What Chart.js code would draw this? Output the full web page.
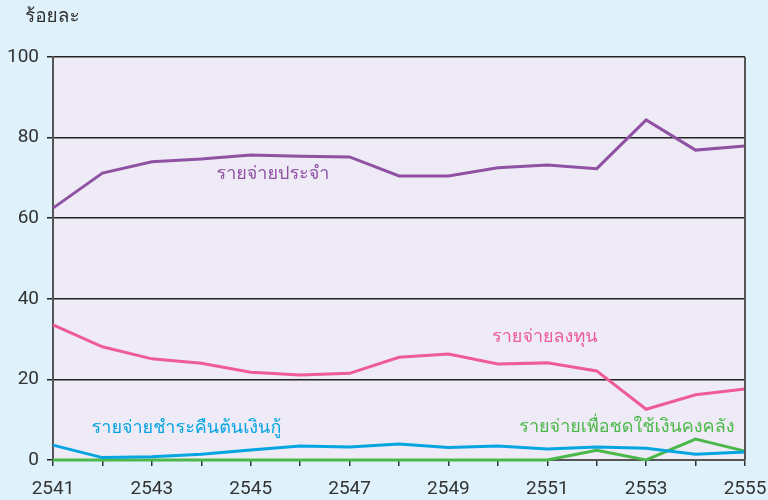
<!DOCTYPE html>
<html>
<head>
<meta charset="utf-8">
<script src="https://cdn.jsdelivr.net/npm/chart.js@4"></script>
<style>
  body { margin: 0; background: #dff1fa; }
  #wrap { width: 768px; height: 500px; position: relative; }
</style>
</head>
<body>
<div id="wrap"><canvas id="chart"></canvas></div>
<script>
// years (Buddhist era) and percent shares
const years = ['2541', '2542', '2543', '2544', '2545', '2546', '2547', '2548',
               '2549', '2550', '2551', '2552', '2553', '2554', '2555'];
const recurrent = [62.5, 71.2, 74.0, 74.7, 75.7, 75.4, 75.2, 70.5, 70.5, 72.5, 73.2, 72.3, 84.4, 76.9, 77.9];
const capital = [33.5, 28.1, 25.1, 24.0, 21.8, 21.1, 21.5, 25.5, 26.3, 23.8, 24.1, 22.1, 12.6, 16.2, 17.6];
const loanRepay = [3.7, 0.6, 0.8, 1.4, 2.5, 3.5, 3.2, 4.0, 3.1, 3.5, 2.7, 3.2, 2.9, 1.4, 2.0];
const treasury = [0, 0, 0, 0, 0, 0, 0, 0, 0, 0, 0, 2.4, 0, 5.2, 2.2];
const yTicks = [0, 20, 40, 60, 80, 100];

const seriesNames = ['รายจ่ายประจำ', 'รายจ่ายลงทุน', 'รายจ่ายชำระคืนต้นเงินกู้', 'รายจ่ายเพื่อชดใช้เงินคงคลัง'];
const seriesColors = ['#8f52a3', '#ef5a98', '#05a5e2', '#4cb849'];

// where each series name sits, in data units (x = year index, y = percent)
const labelSpots = [
    { x: 4.45, y: 70.8 },
    { x: 9.95, y: 30.3 },
    { x: 2.7, y: 7.8 },
    { x: 11.61, y: 8.0 }
];

const thaiFont = 'Loma, Garuda, "Noto Sans Thai Looped", "Noto Sans Thai", "Noto Sans", sans-serif';
const tickFont = '"Liberation Sans Narrow", "Roboto", sans-serif';

const plotBg = {
    id: 'plotBg',
    beforeDraw(chart) {
        const { ctx, chartArea: a } = chart;
        ctx.save();
        ctx.fillStyle = '#eeebf6';
        ctx.fillRect(a.left, a.top, a.right - a.left, a.bottom - a.top);
        ctx.restore();
    },
    afterDatasetsDraw(chart) {
        const { ctx, chartArea: a, scales } = chart;
        ctx.save();
        // right frame line
        ctx.strokeStyle = '#555';
        ctx.lineWidth = 2;
        ctx.beginPath();
        ctx.moveTo(a.right, a.top);
        ctx.lineTo(a.right, a.bottom);
        ctx.stroke();
        // series labels
        ctx.font = '18px ' + thaiFont;
        ctx.textAlign = 'center';
        ctx.textBaseline = 'middle';
        labelSpots.forEach((s, i) => {
            ctx.fillStyle = seriesColors[i];
            ctx.fillText(seriesNames[i], scales.x.getPixelForValue(s.x), scales.y.getPixelForValue(s.y));
        });
        // unit title
        ctx.fillStyle = '#333';
        ctx.textAlign = 'left';
        ctx.font = '19px ' + thaiFont;
        ctx.fillText('ร้อยละ', 25, 18);
        ctx.restore();
    }
};

const datasets = [recurrent, capital, loanRepay, treasury].map((d, i) => ({
    label: seriesNames[i],
    data: d,
    borderColor: seriesColors[i],
    borderWidth: 3,
    pointRadius: 0,
    tension: 0,
    clip: false
}));

new Chart(document.getElementById('chart'), {
    type: 'line',
    data: { labels: years, datasets: datasets },
    options: {
        responsive: true,
        maintainAspectRatio: false,
        animation: false,
        layout: { padding: { top: 57, right: 23, left: 0, bottom: 0 } },
        plugins: { legend: { display: false }, tooltip: { enabled: false } },
        scales: {
            x: {
                grid: { drawOnChartArea: false, drawTicks: true, tickLength: 6, color: '#333', lineWidth: 1.5 },
                border: { color: '#555', width: 2 },
                ticks: {
                    autoSkip: false,
                    maxRotation: 0,
                    color: '#333',
                    font: { size: 19, family: tickFont },
                    padding: 12,
                    callback: (v, i) => (i % 2 === 0 ? years[i] : '')
                },
                afterFit: s => { s.height = 40; s.paddingLeft = 0; s.paddingRight = 0; }
            },
            y: {
                min: 0,
                max: 100,
                afterBuildTicks: s => { s.ticks = yTicks.map(v => ({ value: v })); },
                grid: { color: '#222', lineWidth: 1.5, tickLength: 6 },
                border: { color: '#555', width: 2 },
                ticks: {
                    color: '#333',
                    font: { size: 19, family: tickFont },
                    padding: 8
                },
                afterFit: s => { s.width = 53; }
            }
        }
    },
    plugins: [plotBg]
});
</script>
</body>
</html>
